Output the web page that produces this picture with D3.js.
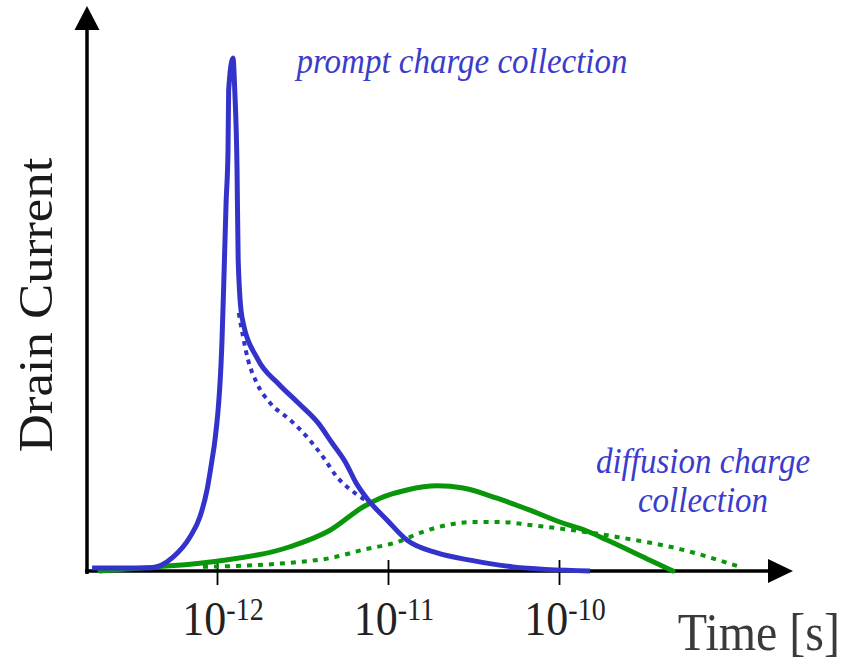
<!DOCTYPE html>
<html>
<head>
<meta charset="utf-8">
<script src="https://cdn.jsdelivr.net/npm/d3@7"></script>
<style>
  body { margin: 0; background: #fff; }
  svg { display: block; }
</style>
</head>
<body>
<div></div>
<script>
// prompt charge collection, total (solid blue)
const promptTime = [1.86e-13, 4.06e-13, 5.53e-13, 6.95e-13, 7.95e-13, 8.74e-13, 9.35e-13, 9.73e-13, 1.07e-12, 1.10e-12, 1.13e-12, 1.16e-12, 1.17e-12, 1.24e-12, 1.27e-12, 1.31e-12, 1.33e-12, 1.40e-12, 1.74e-12, 2.27e-12, 2.98e-12, 3.90e-12, 4.71e-12, 5.68e-12, 6.50e-12, 7.64e-12, 9.86e-12, 1.29e-11, 1.94e-11, 3.02e-11, 5.38e-11, 1.52e-10];
const promptCurrent = [0.006, 0.006, 0.027, 0.066, 0.105, 0.157, 0.215, 0.254, 0.448, 0.578, 0.713, 0.816, 0.932, 0.994, 0.932, 0.777, 0.603, 0.492, 0.409, 0.364, 0.326, 0.287, 0.248, 0.209, 0.171, 0.138, 0.099, 0.060, 0.035, 0.021, 0.008, 0.0];
// prompt charge collection, dotted
const promptDotTime = [1.34e-12, 1.52e-12, 1.71e-12, 2.04e-12, 2.67e-12, 3.36e-12, 4.17e-12, 5.04e-12, 6.41e-12, 7.64e-12];
const promptDotCurrent = [0.50, 0.409, 0.364, 0.326, 0.293, 0.260, 0.221, 0.182, 0.151, 0.134];
// diffusion charge collection (solid green)
const diffTime = [2.07e-13, 4.46e-13, 1.0e-12, 2.67e-12, 4.58e-12, 7.14e-12, 8.98e-12, 1.29e-11, 1.94e-11, 2.75e-11, 4.34e-11, 6.76e-11, 1.05e-10, 1.42e-10, 1.91e-10, 3.40e-10, 4.64e-10];
const diffCurrent = [0, 0.008, 0.019, 0.047, 0.079, 0.124, 0.141, 0.157, 0.165, 0.161, 0.141, 0.118, 0.093, 0.079, 0.060, 0.021, 0];
// diffusion charge collection, dotted
const diffDotTime = [8.28e-13, 2.67e-12, 4.58e-12, 7.14e-12, 1.13e-11, 1.60e-11, 2.21e-11, 3.14e-11, 4.52e-11, 6.76e-11, 1.21e-10, 2.18e-10, 5.31e-10, 9.59e-10, 1.14e-9];
const diffDotCurrent = [0.008, 0.016, 0.025, 0.041, 0.056, 0.076, 0.089, 0.095, 0.095, 0.089, 0.079, 0.066, 0.041, 0.016, 0.008];

const tickValues = [1e-12, 1e-11, 1e-10];
const tickExponents = ["-12", "-11", "-10"];

const width = 854, height = 661;
const blue = "#3333cc", green = "#0a960a", textBlue = "#3b3bcc";

const svg = d3.select('div').append('svg').attr("width", width).attr("height", height);

const xScale = d3.scaleLog().domain([1e-12, 1e-10]).range([217, 559]);
const yScale = d3.scaleLinear().domain([0, 1]).range([571, 55]);

// axes with arrow heads
const originX = 87, originY = yScale(0), xEnd = 793, yEnd = 6;
svg.append("line").attr("x1", originX).attr("y1", originY + 3).attr("x2", originX).attr("y2", yEnd + 20)
    .attr("stroke", "#000").attr("stroke-width", 3.5);
svg.append("path").attr("d", `M${originX},${yEnd} L${originX - 12.5},${yEnd + 24} L${originX + 12.5},${yEnd + 24} Z`).attr("fill", "#000");
svg.append("line").attr("x1", originX - 2).attr("y1", originY).attr("x2", xEnd - 20).attr("y2", originY)
    .attr("stroke", "#000").attr("stroke-width", 3.5);
svg.append("path").attr("d", `M${xEnd},${originY} L${xEnd - 25},${originY - 12} L${xEnd - 25},${originY + 12} Z`).attr("fill", "#000");

const xAxis = d3.axisBottom(xScale).tickValues(tickValues).tickSize(14).tickFormat("");
const gx = svg.append("g").attr("transform", `translate(0,${originY})`).call(xAxis);
gx.select(".domain").remove();
gx.selectAll(".tick line").attr("y1", -11).attr("stroke", "#000").attr("stroke-width", 1.8);
gx.selectAll(".tick text").remove();

// tick labels 10^n
tickValues.forEach((v, i) => {
    const t = svg.append("text")
        .attr("transform", `translate(${xScale(v) + 6},635) scale(1,1.1)`)
        .attr("text-anchor", "middle")
        .attr("font-family", "Liberation Serif")
        .attr("fill", "#222")
        .attr("font-size", 44);
    t.append("tspan").text("10");
    t.append("tspan").attr("dy", -14).attr("font-size", 28).text(tickExponents[i]);
});

const line = d3.line().curve(d3.curveMonotoneX).x(d => xScale(d[0])).y(d => yScale(d[1]));
const pairs = (ts, cs) => ts.map((t, i) => [t, cs[i]]);

svg.append("path").datum(pairs(diffDotTime, diffDotCurrent)).attr("d", line)
    .attr("fill", "none").attr("stroke", green).attr("stroke-width", 4).attr("stroke-dasharray", "5,6");
svg.append("path").datum(pairs(diffTime, diffCurrent)).attr("d", line)
    .attr("fill", "none").attr("stroke", green).attr("stroke-width", 5).attr("stroke-linecap", "round");
svg.append("path").datum(pairs(promptDotTime, promptDotCurrent)).attr("d", line)
    .attr("fill", "none").attr("stroke", blue).attr("stroke-width", 4).attr("stroke-dasharray", "4.5,5");
svg.append("path").datum(pairs(promptTime, promptCurrent)).attr("d", line)
    .attr("fill", "none").attr("stroke", blue).attr("stroke-width", 5).attr("stroke-linejoin", "round");

// axis titles
svg.append("text")
    .attr("transform", `translate(52,305) rotate(-90) scale(1.1,1)`)
    .attr("text-anchor", "middle")
    .attr("font-family", "Liberation Serif")
    .attr("font-size", 48)
    .attr("fill", "#1a1a1a")
    .text("Drain Current");
svg.append("text")
    .attr("transform", `translate(840,650) scale(1,1.1)`)
    .attr("text-anchor", "end")
    .attr("font-family", "Liberation Serif")
    .attr("font-size", 48)
    .attr("fill", "#3a3a3a")
    .text("Time [s]");

// annotations
const note = (x, y, s) => svg.append("text")
    .attr("transform", `translate(${x},${y}) scale(1,1.08)`)
    .attr("text-anchor", "middle")
    .attr("font-family", "Liberation Serif")
    .attr("font-style", "italic")
    .attr("font-size", 33)
    .attr("fill", textBlue)
    .text(s);
note(462, 73, "prompt charge collection");
note(703, 473, "diffusion charge");
note(703, 512, "collection");
</script>
</body>
</html>
